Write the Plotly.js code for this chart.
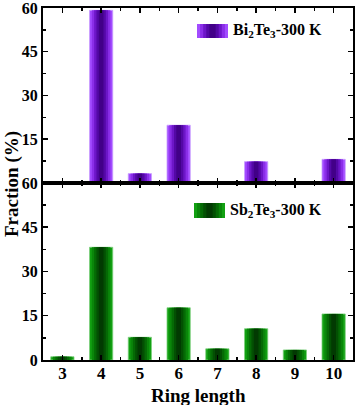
<!DOCTYPE html>
<html>
<head>
<meta charset="utf-8">
<script src="https://cdn.plot.ly/plotly-3.0.1.min.js"></script>
<style>
  html, body { margin: 0; padding: 0; background: #fff; }
  #chart { width: 357px; height: 405px; }
</style>
</head>
<body>
<div id="chart"></div>
<script>
var ringLength = [3, 4, 5, 6, 7, 8, 9, 10];
var biTe = [0.4, 59.2, 3.2, 19.8, 0.3, 7.3, 0, 8.1];
var sbTe = [1.1, 38.2, 7.7, 17.7, 3.8, 10.6, 3.4, 15.6];
var seriesNames = ['Bi<sub>2</sub>Te<sub>3</sub>-300 K', 'Sb<sub>2</sub>Te<sub>3</sub>-300 K'];

// fake the horizontal gradient with overlaid bars of shrinking width
var widths = [0.6, 0.48, 0.36, 0.24, 0.12];
var purples = ['#a24bff', '#8a2ee8', '#6d16c8', '#5408a6', '#420088'];
var greens = ['#12a012', '#0a860a', '#056a05', '#035003', '#023a02'];

var data = [];
widths.forEach(function (w, i) {
  data.push({
    x: ringLength, y: biTe, type: 'bar', width: w,
    xaxis: 'x', yaxis: 'y', name: seriesNames[0], showlegend: false,
    marker: { color: purples[i], line: { width: i === 0 ? 0.8 : 0, color: '#c9a0ff' } }
  });
  data.push({
    x: ringLength, y: sbTe, type: 'bar', width: w,
    xaxis: 'x2', yaxis: 'y2', name: seriesNames[1], showlegend: false,
    marker: { color: greens[i], line: { width: i === 0 ? 0.8 : 0, color: '#7fd07f' } }
  });
});

var fam = 'Liberation Serif, Times New Roman, serif';

function xAxis(anchor, labels) {
  return {
    anchor: anchor, range: [2.5, 10.5], tick0: 3, dtick: 1,
    showticklabels: labels, ticks: 'inside', ticklen: 5, tickwidth: 1.5, tickcolor: '#000',
    minor: { dtick: 0.5, ticks: 'inside', ticklen: 3, tickwidth: 1.5, tickcolor: '#000' },
    showline: true, linewidth: 2, linecolor: '#000', mirror: 'ticks',
    showgrid: false, zeroline: false, fixedrange: true, ticklabelstandoff: -3,
    tickfont: { family: fam, size: 17, color: '#000', weight: 'bold' }
  };
}
function yAxis(anchor, domain, vals) {
  return {
    anchor: anchor, domain: domain, range: [0, 60], tickvals: vals,
    ticks: 'inside', ticklen: 5, tickwidth: 1.5, tickcolor: '#000',
    minor: { dtick: 7.5, tick0: 0, ticks: 'inside', ticklen: 3, tickwidth: 1.5, tickcolor: '#000' },
    showline: true, linewidth: 2, linecolor: '#000', mirror: 'ticks',
    showgrid: false, zeroline: false, fixedrange: true, ticklabeloverflow: 'allow',
    tickfont: { family: fam, size: 16, color: '#000', weight: 'bold' }
  };
}

// legend drawn by hand: wide gradient swatch + label (paper coords from pixels)
var L = 43, W = 310, B = 360, H = 352;
function px(x) { return (x - L) / W; }
function py(y) { return (B - y) / H; }
var shapes = [];
var annotations = [];
function legendEntry(x0, x1, y0, y1, cols, label) {
  var c = (x0 + x1) / 2, half = (x1 - x0) / 2;
  widths.forEach(function (w, i) {
    var h = half * w / widths[0];
    shapes.push({
      type: 'rect', xref: 'paper', yref: 'paper', layer: 'above',
      x0: px(c - h), x1: px(c + h), y0: py(y1), y1: py(y0),
      fillcolor: cols[i], line: { width: 0 }
    });
  });
  annotations.push({
    text: '<b>' + label + '</b>', xref: 'paper', yref: 'paper',
    x: px(x1 + 3), y: py((y0 + y1) / 2), xanchor: 'left', yanchor: 'middle',
    showarrow: false, font: { family: fam, size: 16, color: '#000' }
  });
}
legendEntry(197, 228, 24, 38, purples, seriesNames[0]);
legendEntry(194, 225, 203, 218, greens, seriesNames[1]);

annotations.push({
  text: '<b>Fraction (%)</b>', xref: 'paper', yref: 'paper',
  x: px(12), y: 0.5, xanchor: 'center', yanchor: 'middle', textangle: -90,
  showarrow: false, font: { family: fam, size: 19, color: '#000' }
});
annotations.push({
  text: '<b>Ring length</b>', xref: 'paper', yref: 'paper',
  x: 0.5, y: py(395), xanchor: 'center', yanchor: 'middle',
  showarrow: false, font: { family: fam, size: 19, color: '#000' }
});

var layout = {
  width: 357, height: 405,
  margin: { l: 43, r: 4, t: 8, b: 45 },
  paper_bgcolor: '#fff', plot_bgcolor: '#fff',
  font: { family: fam, size: 15, color: '#000' },
  barmode: 'overlay',
  showlegend: false,
  xaxis: xAxis('y', false),
  yaxis: yAxis('x', [0.503, 1], [15, 30, 45, 60]),
  xaxis2: xAxis('y2', true),
  yaxis2: yAxis('x2', [0, 0.503], [0, 15, 30, 45, 60]),
  shapes: shapes,
  annotations: annotations
};

Plotly.newPlot('chart', data, layout, { displayModeBar: false, staticPlot: true });
</script>
</body>
</html>
